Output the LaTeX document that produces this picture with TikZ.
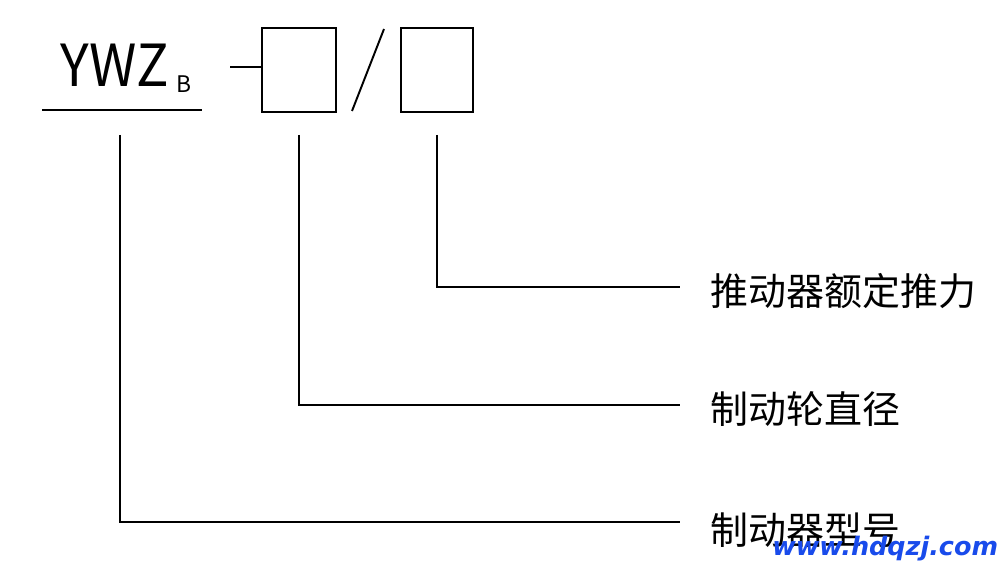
\documentclass[tikz,border=0pt]{standalone}
\usepackage{fontspec}
\setmainfont{Noto Sans CJK SC}
\newfontfamily\cjk{Noto Sans CJK SC}
\newfontfamily\webfont{DejaVu Sans}
\usetikzlibrary{positioning}
\definecolor{webblue}{RGB}{25,75,235}
\begin{document}
\begin{tikzpicture}[x=0.02cm, y=-0.02cm, line width=1.1pt, node distance=0.6cm,
  code box/.style={draw, inner sep=0pt, minimum height=1.68cm},
  name node/.style={anchor=west, inner sep=0pt, font=\cjk\fontsize{21.6}{21.6}\selectfont}]
\useasboundingbox (0,0) rectangle (1000,570);
\begin{scope}[every node/.style={inner sep=0pt}]
\node[anchor=base west, font=\fontsize{33}{33}\selectfont] (ywz) at (60,87) {\scalebox{0.93}[1]{YWZ}};
\node[anchor=base west, font=\fontsize{13}{13}\selectfont] (sub) at (176,93) {B};
\node[code box, minimum width=1.48cm] (b1) at (299,70) {};
\node[code box, minimum width=1.44cm] (b2) at (437,70) {};
\end{scope}
% underline, dash, slash
\coordinate (u1) at (42,110);
\coordinate (u2) at (202,110);
\coordinate (d1) at (230,67);
\coordinate (s1) at (352,111);
\coordinate (s2) at (384,29);
\draw (u1) -- (u2);
\draw (d1) -- (d1 -| b1.west);
\draw (s1) -- (s2);
% leader lines
\coordinate (t1) at (120,135);
\coordinate (t2) at (299,135);
\coordinate (t3) at (437,135);
\coordinate (e1) at (680,522);
\coordinate (e2) at (680,405);
\coordinate (e3) at (680,287);
\draw (t1) |- (e1);
\draw (t2) |- (e2);
\draw (t3) |- (e3);
\begin{scope}
\node[name node, right=of e3, yshift=-0.08cm] (n3) {推动器额定推力};
\node[name node, right=of e2, yshift=-0.08cm] (n2) {制动轮直径};
\node[name node, right=of e1, yshift=-0.16cm] (n1) {制动器型号};
\end{scope}
\node[anchor=base east, inner sep=0pt, text=webblue, font=\webfont\bfseries\itshape\fontsize{14.5}{14.5}\selectfont] (web) at (999,555) {www.hdqzj.com};
\end{tikzpicture}
\end{document}
